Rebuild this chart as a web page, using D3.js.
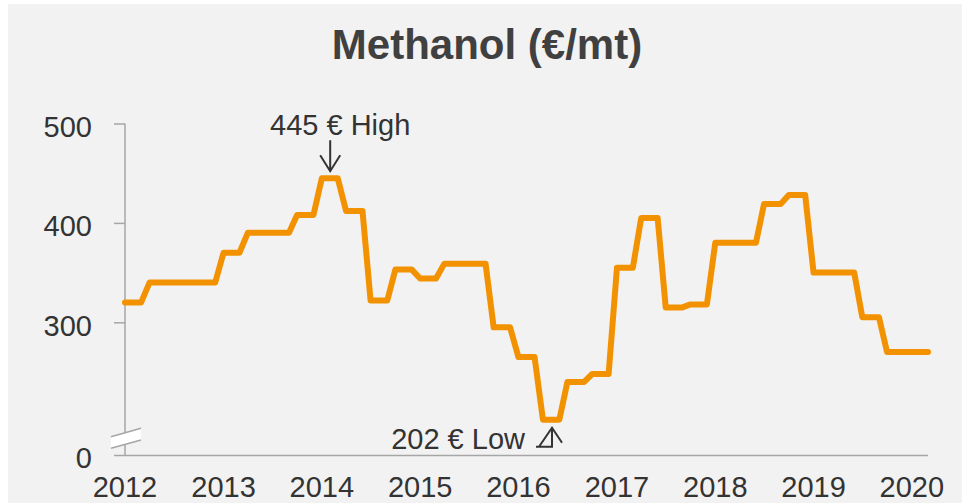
<!DOCTYPE html>
<html>
<head>
<meta charset="utf-8">
<script src="https://cdn.jsdelivr.net/npm/d3@7"></script>
<style>
    body { margin: 0; background: #ffffff; }
    text { font-family: "Liberation Sans", Arial, sans-serif; }
</style>
</head>
<body>
<div id="chart"></div>
<script>
'use strict';

// monthly contract price, Jan 2012 .. Mar 2020 (EUR/mt)
const startMonth = new Date(2012, 0, 1);
const endMonth = new Date(2020, 2, 1);
const prices = [
    320, 320, 320, 340, 340, 340, 340, 340, 340, 340, 340, 340,
    370, 370, 370, 390, 390, 390, 390, 390, 390, 408, 408, 408,
    445, 445, 445, 412, 412, 412, 322, 322, 322, 353, 353, 353,
    344, 344, 344, 359, 359, 359, 359, 359, 359, 295, 295, 295,
    265, 265, 265, 202, 202, 202, 240, 240, 240, 248, 248, 248,
    355, 355, 355, 405, 405, 405, 315, 315, 315, 318, 318, 318,
    380, 380, 380, 380, 380, 380, 419, 419, 419, 428, 428, 428,
    350, 350, 350, 350, 350, 350, 305, 305, 305, 270, 270, 270,
    270, 270, 270
];
const yearLabels = ['2012', '2013', '2014', '2015', '2016', '2017', '2018', '2019', '2020'];
const yTicks = [300, 400, 500];
const highNote = {label: '445 € High', index: 25};
const lowNote = {label: '202 € Low', index: 52};

class MethanolChart {

    constructor (id)
    {
        this.id = id;
        this.width = 962;
        this.height = 503;
        this.plot = {left: 125, right: 928, top: 123.5, base: 455.5};
        this.color = '#f39200';
        this.axisColor = '#a6a6a6';
        this.textColor = '#333333';
        this.fontSize = 29;
    }

    buildScales ()
    {
        this.dates = d3.timeMonth.range(startMonth, d3.timeMonth.offset(endMonth, 1));
        this.xScale = d3.scaleTime()
            .domain([startMonth, endMonth])
            .range([this.plot.left, this.plot.right]);
        this.yScale = d3.scaleLinear()
            .domain([300, 500])
            .range([322.3, this.plot.top]);
    }

    appendSvg ()
    {
        let svg = d3.select('#'+this.id).append('svg')
            .attr('width', this.width)
            .attr('height', this.height);
        svg.append('rect')
            .attr('x', 8).attr('y', 4)
            .attr('width', this.width - 8).attr('height', this.height - 4)
            .attr('fill', '#f2f2f2');
        return svg;
    }

    appendTitle (svg)
    {
        svg.append('text')
            .attr('x', 487)
            .attr('y', 59)
            .attr('text-anchor', 'middle')
            .attr('font-size', 42)
            .attr('font-weight', 'bold')
            .attr('fill', '#404040')
            .text('Methanol (€/mt)');
    }

    createAxes (svg)
    {
        let p = this.plot;

        // y axis ticks and labels
        let yAxis = d3.axisLeft(this.yScale)
            .tickValues(yTicks)
            .tickSize(11)
            .tickPadding(22);
        let yAxisGroup = svg.append('g')
            .attr('class', 'yAxis')
            .attr('transform', 'translate('+ p.left +',0)')
            .call(yAxis);
        yAxisGroup.select('.domain').remove();
        yAxisGroup.selectAll('line').attr('stroke', this.axisColor).attr('stroke-width', 1.5);
        yAxisGroup.selectAll('text')
            .attr('font-size', this.fontSize)
            .attr('font-family', '"Liberation Sans", Arial, sans-serif')
            .attr('fill', this.textColor)
            .attr('dy', '0.44em');

        // y axis line, broken between 0 and 300
        svg.append('line')
            .attr('x1', p.left).attr('x2', p.left)
            .attr('y1', p.top).attr('y2', p.base)
            .attr('stroke', this.axisColor).attr('stroke-width', 1.5);

        let brk = svg.append('g').attr('class', 'axis-break');
        brk.append('polygon')
            .attr('points', '111,436.7 141,428.3 141,440 111,448.3')
            .attr('fill', '#ffffff');
        brk.append('line')
            .attr('x1', 111).attr('y1', 436.7).attr('x2', 141).attr('y2', 428.3)
            .attr('stroke', this.axisColor).attr('stroke-width', 1.5);
        brk.append('line')
            .attr('x1', 111).attr('y1', 448.3).attr('x2', 141).attr('y2', 440)
            .attr('stroke', this.axisColor).attr('stroke-width', 1.5);

        // x axis baseline doubles as the "0" tick
        svg.append('line')
            .attr('x1', p.left - 11).attr('x2', p.right)
            .attr('y1', p.base).attr('y2', p.base)
            .attr('stroke', this.axisColor).attr('stroke-width', 1.5);
        svg.append('text')
            .attr('x', p.left - 33)
            .attr('y', p.base)
            .attr('dy', '0.44em')
            .attr('text-anchor', 'end')
            .attr('font-size', this.fontSize)
            .attr('fill', this.textColor)
            .text('0');

        svg.append('g')
            .attr('class', 'xAxis')
            .selectAll('text')
            .data(yearLabels)
            .enter()
            .append('text')
            .attr('x', d => this.xScale(new Date(+d, 0, 1)))
            .attr('y', p.base + 41)
            .attr('text-anchor', 'middle')
            .attr('font-size', this.fontSize)
            .attr('fill', this.textColor)
            .text(d => d);
    }

    appendLine (svg)
    {
        let line = d3.line()
            .x((d, i) => this.xScale(this.dates[i]))
            .y(d => this.yScale(d));

        svg.append('path')
            .datum(prices)
            .attr('class', 'data-element')
            .attr('d', line)
            .attr('fill', 'none')
            .attr('stroke', this.color)
            .attr('stroke-width', 6)
            .attr('stroke-linejoin', 'round')
            .attr('stroke-linecap', 'round');
    }

    appendNotes (svg)
    {
        let hx = this.xScale(this.dates[highNote.index]);
        let hy = this.yScale(prices[highNote.index]);
        svg.append('text')
            .attr('x', hx + 10)
            .attr('y', hy - 43)
            .attr('text-anchor', 'middle')
            .attr('font-size', this.fontSize)
            .attr('fill', this.textColor)
            .text(highNote.label);
        svg.append('path')
            .attr('d', 'M'+hx+','+(hy-38)+'V'+(hy-7)+'M'+(hx-10)+','+(hy-23)+'L'+hx+','+(hy-7)+'L'+(hx+10)+','+(hy-23))
            .attr('fill', 'none')
            .attr('stroke', this.textColor)
            .attr('stroke-width', 2);

        let lx = this.xScale(this.dates[lowNote.index]);
        let ly = this.yScale(prices[lowNote.index]);
        svg.append('text')
            .attr('x', lx - 26)
            .attr('y', ly + 29)
            .attr('text-anchor', 'end')
            .attr('font-size', this.fontSize)
            .attr('fill', this.textColor)
            .text(lowNote.label);
        let ax = lx + 1;
        svg.append('path')
            .attr('d', 'M'+(ax-16)+','+(ly+27)+'H'+ax+'V'+(ly+8)
                + 'M'+(ax-13)+','+(ly+27)+'L'+ax+','+(ly+8)+'L'+(ax+10)+','+(ly+23))
            .attr('fill', 'none')
            .attr('stroke', this.textColor)
            .attr('stroke-width', 2);
    }

    build ()
    {
        this.buildScales();
        let svg = this.appendSvg();
        this.appendTitle(svg);
        this.createAxes(svg);
        this.appendLine(svg);
        this.appendNotes(svg);
        return this;
    }
}

new MethanolChart('chart').build();
</script>
</body>
</html>
